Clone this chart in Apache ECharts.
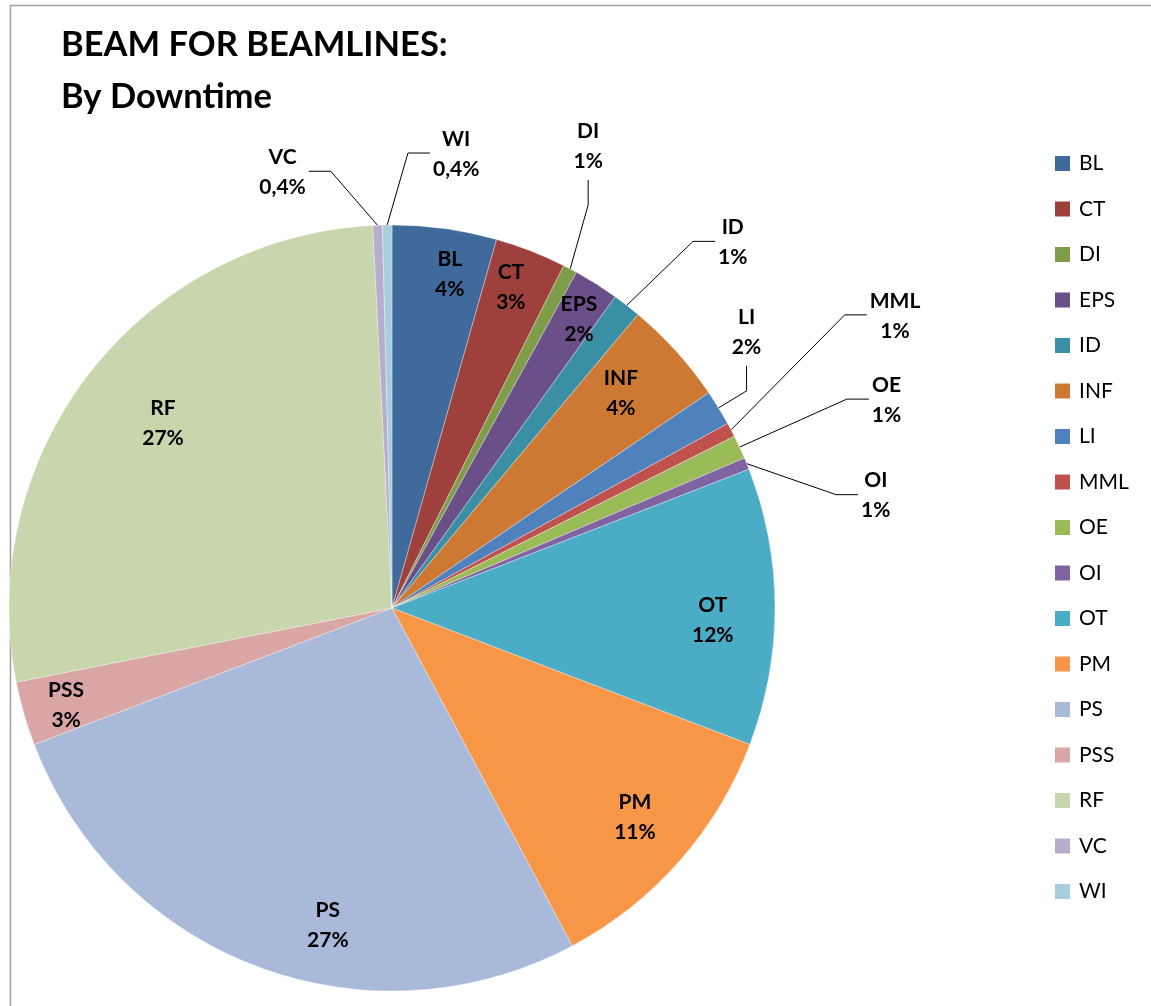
<!DOCTYPE html>
<html>
<head>
<meta charset="utf-8">
<script src="https://cdn.jsdelivr.net/npm/echarts@6/dist/echarts.min.js"></script>
<style>
  html, body { margin: 0; padding: 0; background: #ffffff; }
  #chart { width: 1151px; height: 1006px; }
</style>
</head>
<body>
<div id="chart"></div>
<script>
// Downtime share per system, in percent of total beam-for-beamlines downtime
const categories = ['BL', 'CT', 'DI', 'EPS', 'ID', 'INF', 'LI', 'MML', 'OE', 'OI', 'OT', 'PM', 'PS', 'PSS', 'RF', 'VC', 'WI'];
const shares     = [4.4, 3.0, 0.6, 1.9, 1.2, 4.4, 1.5, 0.6, 1.0, 0.5, 11.7, 11.4, 27.0, 2.7, 27.3, 0.4, 0.4];
const sliceColors = ['#3F6A9B', '#9E403C', '#7F9C48', '#6A4F89', '#3A8FA5', '#CD7933',
                     '#4F81BD', '#C0504D', '#9BBB59', '#8064A2', '#4BACC6', '#F79646',
                     '#A9B9D9', '#D9A6A5', '#C7D6AC', '#B8ADCC', '#A8CEDE'];
const titleLines = ['BEAM FOR BEAMLINES:', 'By Downtime'];

// Pie geometry
const PIE_CENTER = [392, 608];
const PIE_RADIUS = 383;
const FONT = 'Lato, "Open Sans", sans-serif';

// Labels drawn on the slice: [fraction of radius, clockwise shift in degrees]
const insidePlacement = {
  BL: [0.885, 1.9], CT: [0.893, -0.9], EPS: [0.898, 0.7], INF: [0.82, -1.1],
  OT: [0.838, 2.3], PM: [0.838, -0.6], PS: [0.846, -9.1], PSS: [0.888, -0.6], RF: [0.768, 0.9]
};
// Callout labels: offset of the label centre from the slice's rim point, and where the leader meets it
const callouts = {
  VC:  { dx: -95, dy: -53,  side: 'right' },
  WI:  { dx: 69,  dy: -71,  side: 'left' },
  DI:  { dx: 18,  dy: -123, side: 'bottom' },
  ID:  { dx: 106, dy: -63,  side: 'left' },
  LI:  { dx: 28,  dy: -76,  side: 'bottom' },
  MML: { dx: 164, dy: -114, side: 'left' },
  OE:  { dx: 147, dy: -47,  side: 'left' },
  OI:  { dx: 129, dy: 32,   side: 'left' }
};

function formatShare(p) {
  const pct = p.percent < 0.5 ? p.percent.toFixed(1).replace('.', ',') : String(Math.round(p.percent));
  return p.name + '\n' + pct + '%';
}

function placeLabel(params) {
  const name = categories[params.dataIndex];
  const lr = params.labelRect;
  const w = lr.width, h = lr.height;
  const c = callouts[name];
  if (c && params.labelLinePoints) {
    const anchor = params.labelLinePoints[0];
    const x = anchor[0] + c.dx, y = anchor[1] + c.dy;
    let start, bend;
    if (c.side === 'left') {
      start = [x - w / 2 - 3, y - 1]; bend = [start[0] - 22, start[1]];
    } else if (c.side === 'right') {
      start = [x + w / 2 + 3, y - 1]; bend = [start[0] + 22, start[1]];
    } else {
      start = [x, y + h / 2 + 4]; bend = [x, start[1] + 25];
    }
    return { x: x, y: y, align: 'center', verticalAlign: 'middle', labelLinePoints: [anchor, bend, start] };
  }
  const p = insidePlacement[name];
  if (!p) return {};
  const lx = lr.x + w / 2, ly = lr.y + h / 2;
  const a = Math.atan2(ly - PIE_CENTER[1], lx - PIE_CENTER[0]) + p[1] * Math.PI / 180;
  const r = p[0] * PIE_RADIUS;
  return {
    x: PIE_CENTER[0] + r * Math.cos(a),
    y: PIE_CENTER[1] + r * Math.sin(a),
    align: 'center', verticalAlign: 'middle'
  };
}

const pieData = categories.map(function (name, i) {
  const isCallout = !!callouts[name];
  return {
    name: name,
    value: shares[i],
    itemStyle: { color: sliceColors[i] },
    label: { position: isCallout ? 'outside' : 'inside' },
    labelLine: { show: isCallout }
  };
});

const chart = echarts.init(document.getElementById('chart'), null, { renderer: 'canvas' });
chart.setOption({
  animation: false,
  backgroundColor: '#ffffff',
  title: {
    text: titleLines.join('\n'),
    left: 61,
    top: 19,
    padding: 0,
    textStyle: { fontFamily: FONT, fontWeight: 'bold', fontSize: 34.5, lineHeight: 52, color: '#000000' }
  },
  graphic: [{
    type: 'rect',
    shape: { x: 10.5, y: 5.5, width: 2000, height: 2000 },
    style: { fill: 'none', stroke: '#a0a0a0', lineWidth: 1.5 },
    silent: true
  }],
  legend: {
    orient: 'vertical',
    left: 1055,
    top: 153,
    padding: 0,
    icon: 'rect',
    itemWidth: 15,
    itemHeight: 15,
    itemGap: 24.5,
    selectedMode: false,
    data: categories,
    itemStyle: { borderWidth: 0 },
    textStyle: { fontFamily: FONT, fontSize: 21, color: '#000000', padding: [0, 0, 0, 4] }
  },
  series: [{
    type: 'pie',
    center: PIE_CENTER,
    radius: PIE_RADIUS,
    startAngle: 90,
    clockwise: true,
    avoidLabelOverlap: false,
    silent: true,
    itemStyle: { borderColor: 'rgba(255,255,255,0.55)', borderWidth: 0.6 },
    label: {
      show: true,
      formatter: formatShare,
      fontFamily: FONT,
      fontWeight: 'bold',
      fontSize: 21,
      lineHeight: 30,
      color: '#000000'
    },
    labelLine: { lineStyle: { color: '#000000', width: 1 }, length: 20, length2: 20 },
    labelLayout: placeLabel,
    emphasis: { disabled: true },
    data: pieData
  }]
});
</script>
</body>
</html>
